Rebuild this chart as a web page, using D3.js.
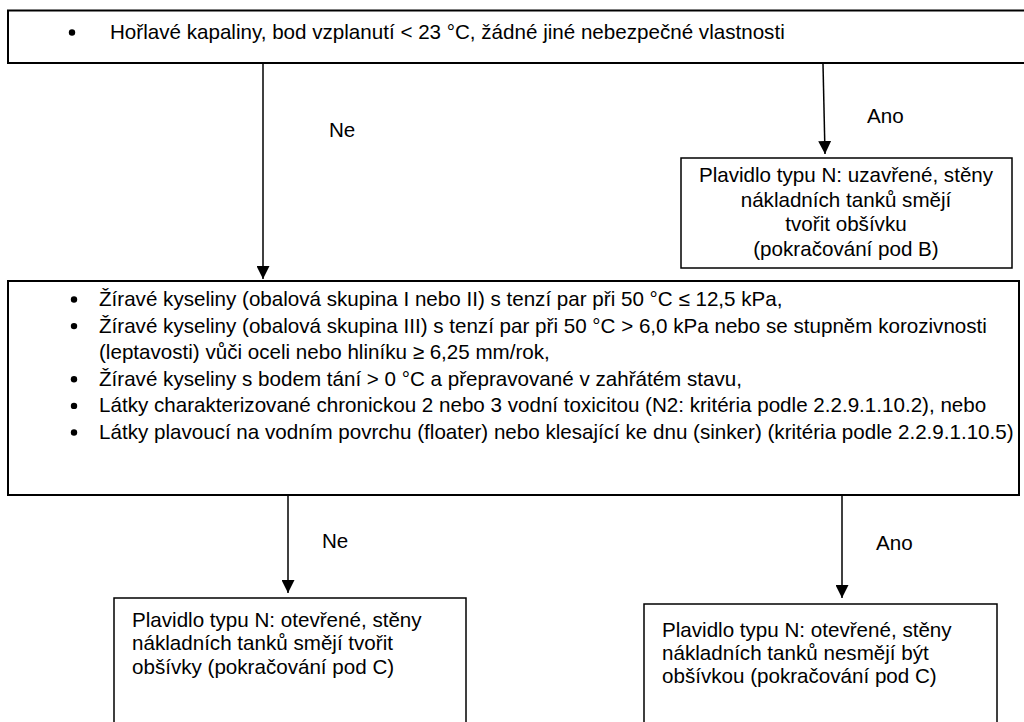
<!DOCTYPE html>
<html>
<head>
<meta charset="utf-8">
<script src="https://cdn.jsdelivr.net/npm/d3@7"></script>
<style>
    html, body { margin: 0; padding: 0; background: #fff; }
    #chart { width: 1024px; height: 722px; overflow: hidden; }
    text { font-family: Arial, "Liberation Sans", sans-serif; fill: #000; }
</style>
</head>
<body>
<div id="chart"></div>
<script>
// Texts of the flowchart
const topCriteria = [
    ["Hořlavé kapaliny, bod vzplanutí < 23 °C, žádné jiné nebezpečné vlastnosti"]
];
const acidCriteria = [
    ["Žíravé kyseliny (obalová skupina I nebo II) s tenzí par při 50 °C  ≤ 12,5 kPa,"],
    ["Žíravé kyseliny (obalová skupina III) s tenzí par při 50 °C > 6,0 kPa nebo se stupněm korozivnosti",
     "(leptavosti) vůči oceli nebo hliníku ≥ 6,25 mm/rok,"],
    ["Žíravé kyseliny s bodem tání > 0 °C a přepravované v zahřátém stavu,"],
    ["Látky charakterizované chronickou 2 nebo 3 vodní toxicitou (N2: kritéria podle 2.2.9.1.10.2), nebo"],
    ["Látky plavoucí na vodním povrchu (floater) nebo klesající ke dnu (sinker) (kritéria podle 2.2.9.1.10.5)"]
];
const closedLines = ["Plavidlo typu N: uzavřené, stěny", "nákladních tanků smějí", "tvořit obšívku", "(pokračování pod B)"];
const openMayLines = ["Plavidlo typu N: otevřené, stěny", "nákladních tanků smějí tvořit", "obšívky (pokračování pod C)"];
const openMayNotLines = ["Plavidlo typu N: otevřené, stěny", "nákladních tanků nesmějí být", "obšívkou (pokračování pod C)"];
const branchLabels = ["Ne", "Ano", "Ne", "Ano"];

const width = 1024, height = 722;
const fontSize = 20.6;

const svg = d3.select("#chart").append("svg")
    .attr("width", width)
    .attr("height", height)
    .attr("viewBox", `0 0 ${width} ${height}`);

// arrow head
svg.append("defs").append("marker")
    .attr("id", "head")
    .attr("viewBox", "0 0 13 13")
    .attr("refX", 13).attr("refY", 6.5)
    .attr("markerUnits", "userSpaceOnUse")
    .attr("markerWidth", 13).attr("markerHeight", 13)
    .attr("orient", "auto")
    .append("path")
    .attr("d", "M0,0 L13,6.5 L0,13 Z")
    .attr("fill", "#000");

// boxes: x0, y0, x1, y1 (bottom boxes run off the page)
const boxes = [
    { id: "top", x0: 8, y0: 10.5, x1: 1030, y1: 63, sw: 2 },
    { id: "closed", x0: 681, y0: 158, x1: 1012, y1: 268, sw: 1.5 },
    { id: "acid", x0: 8, y0: 281, x1: 1019, y1: 495, sw: 2 },
    { id: "openMay", x0: 114, y0: 598, x1: 466, y1: 740, sw: 1.5 },
    { id: "openMayNot", x0: 644, y0: 604, x1: 997, y1: 740, sw: 1.5 }
];

svg.append("g").attr("class", "boxes")
    .selectAll("rect")
    .data(boxes, d => d.id)
    .enter()
    .append("rect")
    .attr("x", d => d.x0)
    .attr("y", d => d.y0)
    .attr("width", d => d.x1 - d.x0)
    .attr("height", d => d.y1 - d.y0)
    .attr("fill", "none")
    .attr("stroke", "#000")
    .attr("stroke-width", d => d.sw);

// connectors
const arrows = [
    { x1: 263, y1: 64, x2: 263, y2: 279 },
    { x1: 823, y1: 64, x2: 825, y2: 154 },
    { x1: 288, y1: 496, x2: 288, y2: 593 },
    { x1: 842, y1: 496, x2: 842, y2: 598 }
];

svg.append("g").attr("class", "arrows")
    .selectAll("line")
    .data(arrows)
    .enter()
    .append("line")
    .attr("x1", d => d.x1)
    .attr("y1", d => d.y1)
    .attr("x2", d => d.x2)
    .attr("y2", d => d.y2)
    .attr("stroke", "#000")
    .attr("stroke-width", 1.5)
    .attr("marker-end", "url(#head)");

// Ne / Ano labels
const labelPos = [
    { x: 329, y: 137 },
    { x: 867, y: 123 },
    { x: 322, y: 548 },
    { x: 876, y: 550 }
];

svg.append("g").attr("class", "branch-labels")
    .selectAll("text")
    .data(branchLabels)
    .enter()
    .append("text")
    .attr("x", (d, i) => labelPos[i].x)
    .attr("y", (d, i) => labelPos[i].y)
    .attr("font-size", fontSize)
    .text(d => d);

// bulleted lists
function drawBullets(items, bulletX, textX, firstY, step) {
    const rows = [];
    items.forEach(item => {
        item.forEach((line, j) => rows.push({ line, bullet: j === 0 }));
    });
    const g = svg.append("g");
    g.selectAll("circle")
        .data(rows.map((r, i) => ({ ...r, i })).filter(r => r.bullet))
        .enter()
        .append("circle")
        .attr("cx", bulletX)
        .attr("cy", d => firstY + d.i * step - 6.5)
        .attr("r", 3.2)
        .attr("fill", "#000");
    g.selectAll("text")
        .data(rows)
        .enter()
        .append("text")
        .attr("x", textX)
        .attr("y", (d, i) => firstY + i * step)
        .attr("font-size", fontSize)
        .text(d => d.line);
}

drawBullets(topCriteria, 72, 110, 39, 0);
drawBullets(acidCriteria, 74, 99, 306, 26.6);

// plain multi-line text blocks
function drawLines(lines, x, firstY, step, anchor) {
    svg.append("g")
        .selectAll("text")
        .data(lines)
        .enter()
        .append("text")
        .attr("x", x)
        .attr("y", (d, i) => firstY + i * step)
        .attr("text-anchor", anchor)
        .attr("font-size", fontSize)
        .text(d => d);
}

drawLines(closedLines, 846, 182, 24.7, "middle");
drawLines(openMayLines, 132, 627, 23.3, "start");
drawLines(openMayNotLines, 662, 637, 23, "start");
</script>
</body>
</html>
